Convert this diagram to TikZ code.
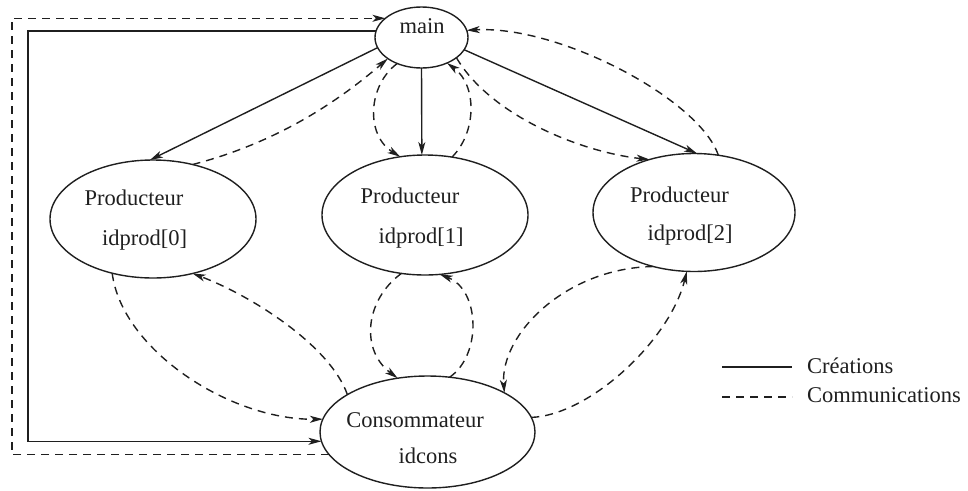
\documentclass[tikz,border=0pt]{standalone}
\usepackage{fontspec}
\setmainfont{Liberation Serif}
\usetikzlibrary{arrows.meta,shapes.geometric}
\definecolor{ink}{gray}{0.12}
\begin{document}
\begin{tikzpicture}[x=1pt,y=-1pt,
  proc/.style={draw=ink, ellipse, line width=1.4pt, inner sep=0pt, outer sep=0pt},
  lbl/.style={anchor=base, inner sep=0pt, text=ink, font=\fontsize{22.5}{27}\selectfont},
  tip/.style={-{Stealth[length=13pt,width=7pt,inset=3.5pt]}},
  create/.style={draw=ink, line width=1.4pt},
  comm/.style={draw=ink, line width=1.4pt, dash pattern=on 8pt off 6pt},
]
\useasboundingbox (0,0) rectangle (968,490);

% processes
\node[proc, minimum width=93pt,  minimum height=61pt]  (main) at (421.5,37.5) {};
\node[proc, minimum width=206pt, minimum height=118pt] (p0)   at (153,219) {};
\node[proc, minimum width=206pt, minimum height=120pt] (p1)   at (425,215) {};
\node[proc, minimum width=202pt, minimum height=118pt] (p2)   at (694,212.5) {};
\node[proc, minimum width=215pt, minimum height=112pt] (cons) at (427.5,432) {};

% process labels
\node[lbl] (tmain) at (422,33) {main};
\node[lbl] (tp0a) at (134,205) {Producteur};
\node[lbl] (tp0b) at (144.5,245) {idprod[0]};
\node[lbl] (tp1a) at (410,203) {Producteur};
\node[lbl] (tp1b) at (421,243) {idprod[1]};
\node[lbl] (tp2a) at (679.5,202) {Producteur};
\node[lbl] (tp2b) at (690,240) {idprod[2]};
\node[lbl] (tca) at (415,427) {Consommateur};
\node[lbl] (tcb) at (428,463) {idcons};

% corners of the outer frame
\coordinate (outer) at (12,0);
\coordinate (inner) at (28,0);

% creations
\draw[create,tip] (main.193) -- (p0.93);
\draw[create,tip] (main.270) -- (p1.93);
\draw[create,tip] (main.344) -- (p2.87);
\draw[create,tip] (main.172) -- (main.172 -| inner) |- (cons.185);

% communications with main
\draw[comm,tip] (cons.193) -- (cons.193 -| outer) |- (main.152);
\draw[comm,tip] (p0.54) .. controls (264,146) and (326,112) .. (main.212);
\draw[comm,tip] (main.227) .. controls (368,85) and (365,135) .. (p1.113);
\draw[comm,tip] (p1.65) .. controls (477,132) and (477,85) .. (main.315);
\draw[comm,tip] (main.330) .. controls (490,115) and (580,152) .. (p2.130);
\draw[comm,tip] (p2.67) .. controls (700,100) and (560,25) .. (main.9);

% communications with the consumer
\draw[comm,tip] (p0.233) .. controls (122,350) and (230,420) .. (cons.173);
\draw[comm,tip] (cons.155) .. controls (330,345) and (250,295) .. (p0.306);
\draw[comm,tip] (p1.248) .. controls (365,300) and (360,350) .. (cons.119);
\draw[comm,tip] (cons.68) .. controls (482,355) and (480,290) .. (p1.284);
\draw[comm,tip] (p2.233) .. controls (565,268) and (500,335) .. (cons.27);
\draw[comm,tip] (cons.8) .. controls (590,415) and (670,340) .. (p2.263);

% legend
\coordinate (l1a) at (722,367);
\coordinate (l1b) at (792,367);
\coordinate (l2a) at (722,397);
\coordinate (l2b) at (792,397);
\draw[create] (l1a) -- (l1b);
\draw[comm] (l2a) -- (l2b);
\node[lbl, anchor=base west] (leg1) at (807,373) {Créations};
\node[lbl, anchor=base west] (leg2) at (807,402) {Communications};
\end{tikzpicture}
\end{document}
